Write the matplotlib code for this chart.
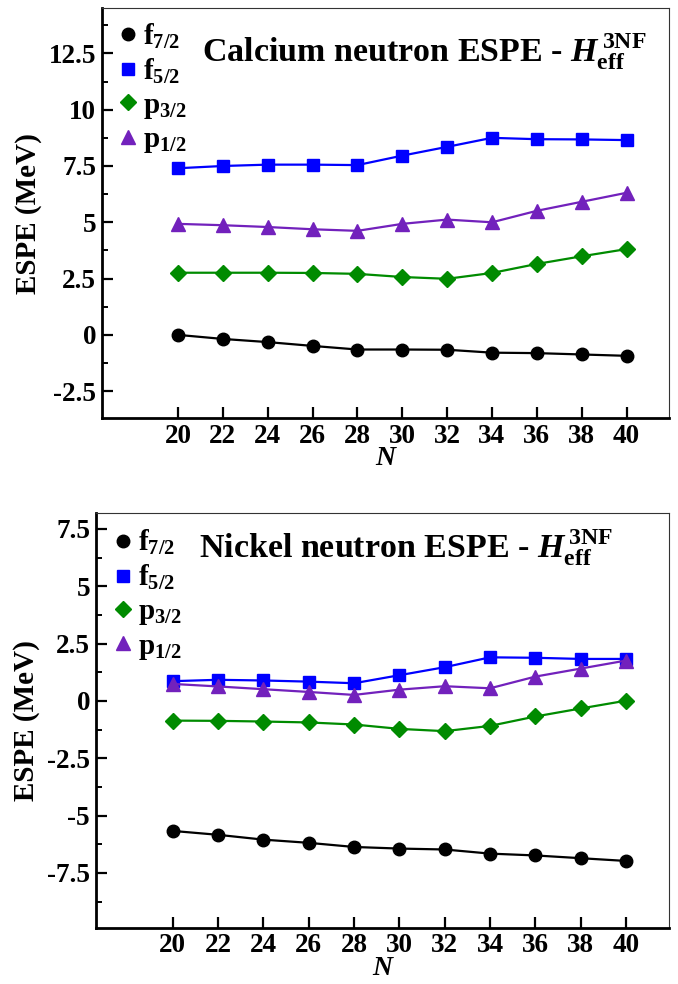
import matplotlib
matplotlib.use("Agg")
import matplotlib.pyplot as plt
from matplotlib.ticker import MultipleLocator

plt.rcParams['font.family'] = ['Liberation Serif', 'DejaVu Serif']
plt.rcParams['font.weight'] = 'bold'
plt.rcParams['axes.labelweight'] = 'bold'
plt.rcParams['mathtext.fontset'] = 'custom'
plt.rcParams['mathtext.rm'] = 'Liberation Serif:bold'
plt.rcParams['mathtext.bf'] = 'Liberation Serif:bold'
plt.rcParams['mathtext.it'] = 'Liberation Serif:bold:italic'

# Neutron number
N = [20, 22, 24, 26, 28, 30, 32, 34, 36, 38, 40]
orbit_labels = [r'f$_{7/2}$', r'f$_{5/2}$', r'p$_{3/2}$', r'p$_{1/2}$']

# Calcium ESPE (MeV)
ca_f72 = [0.0, -0.18, -0.32, -0.49, -0.65, -0.65, -0.66, -0.79, -0.81, -0.87, -0.93]
ca_f52 = [7.40, 7.50, 7.56, 7.56, 7.54, 7.96, 8.35, 8.75, 8.69, 8.68, 8.65]
ca_p32 = [2.76, 2.76, 2.76, 2.75, 2.71, 2.57, 2.49, 2.75, 3.15, 3.49, 3.81]
ca_p12 = [4.93, 4.87, 4.79, 4.69, 4.62, 4.93, 5.12, 5.00, 5.51, 5.91, 6.31]

# Nickel ESPE (MeV)
ni_f72 = [-5.67, -5.84, -6.05, -6.19, -6.37, -6.44, -6.48, -6.66, -6.74, -6.86, -6.98]
ni_f52 = [0.86, 0.92, 0.89, 0.84, 0.77, 1.12, 1.47, 1.90, 1.88, 1.83, 1.83]
ni_p32 = [-0.86, -0.87, -0.90, -0.94, -1.03, -1.22, -1.32, -1.09, -0.68, -0.33, 0.01]
ni_p12 = [0.74, 0.63, 0.51, 0.39, 0.26, 0.49, 0.64, 0.55, 1.06, 1.41, 1.76]

colors = ['black', '#0000ff', '#008b00', '#7221bc']
markers = ['o', 's', 'D', '^']
msizes = [9, 9, 8, 9.5]

fig = plt.figure(figsize=(6.78, 9.84), dpi=100)
ax1 = fig.add_axes([0.150, 0.575, 0.837, 0.4165])
ax2 = fig.add_axes([0.141, 0.057, 0.846, 0.4218])


def draw_panel(ax, series, title, ylim, tx, ty, lx, ly):
    for y, c, m, ms, lab in zip(series, colors, markers, msizes, orbit_labels):
        ax.plot(N, y, color=c, marker=m, markersize=ms, linewidth=1.6, label=lab)
    ax.set_xlim(16.6, 41.9)
    ax.set_xticks(N)
    ax.yaxis.set_major_locator(MultipleLocator(2.5))
    ax.yaxis.set_minor_locator(MultipleLocator(1.25))
    ax.set_ylim(*ylim)
    ax.yaxis.set_major_formatter(lambda v, pos: '%g' % v)
    ax.tick_params(axis='both', which='major', direction='in', length=8, width=1.6,
                   labelsize=19.5, top=False, right=False)
    ax.tick_params(axis='x', pad=4)
    ax.tick_params(axis='y', pad=4)
    ax.tick_params(axis='y', which='minor', direction='in', length=4, width=1.4)
    for lbl in ax.get_xticklabels() + ax.get_yticklabels():
        lbl.set_fontweight('bold')
    for s in ['left', 'bottom']:
        ax.spines[s].set_linewidth(2.0)
    for s in ['top', 'right']:
        ax.spines[s].set_linewidth(0.8)
        ax.spines[s].set_color('#333333')
    ax.set_xlabel('N', fontsize=20, style='italic', labelpad=-2)
    ax.set_ylabel('ESPE (MeV)', fontsize=21, labelpad=5)
    ax.text(tx, ty, title, transform=ax.transAxes, fontsize=24.5, va='baseline', ha='left')
    leg = ax.legend(loc='upper left', bbox_to_anchor=(lx, ly), frameon=False, fontsize=21,
                    borderpad=0, borderaxespad=0, handlelength=0.6, handletextpad=0.22,
                    labelspacing=0.2, numpoints=1)
    for h in leg.legend_handles:
        h.set_linestyle('none')


draw_panel(ax1, [ca_f72, ca_f52, ca_p32, ca_p12],
           r'Calcium neutron ESPE - $H_{\mathrm{eff}}^{\,\mathrm{3NF}}$',
           (-3.7, 14.5), 0.177, 0.870, 0.031, 0.968)
draw_panel(ax2, [ni_f72, ni_f52, ni_p32, ni_p12],
           r'Nickel neutron ESPE - $H_{\mathrm{eff}}^{\,\mathrm{3NF}}$',
           (-9.9, 8.2), 0.180, 0.892, 0.032, 0.964)

fig.savefig('out.png', dpi=100)
